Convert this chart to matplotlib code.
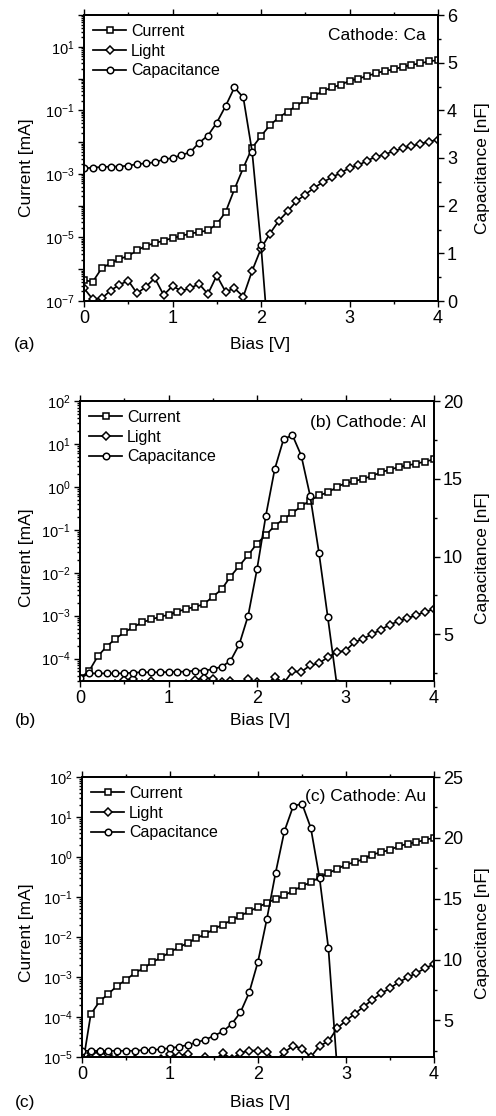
import numpy as np
import matplotlib
matplotlib.use("Agg")
import matplotlib.pyplot as plt
from matplotlib.ticker import FixedLocator, FuncFormatter, MultipleLocator, LogLocator, NullFormatter

plt.rcParams['font.family'] = ['Liberation Sans', 'DejaVu Sans']
plt.rcParams['mathtext.fontset'] = 'custom'
plt.rcParams['mathtext.rm'] = 'Liberation Sans'
plt.rcParams['mathtext.it'] = 'Liberation Sans'
plt.rcParams['mathtext.bf'] = 'Liberation Sans'

# ---------------- data ----------------
bias = [0.0, 0.1, 0.2, 0.3, 0.4, 0.5, 0.6, 0.7, 0.8, 0.9, 1.0,
        1.1, 1.2, 1.3, 1.4, 1.5, 1.6, 1.7, 1.8, 1.9, 2.0,
        2.1, 2.2, 2.3, 2.4, 2.5, 2.6, 2.7, 2.8, 2.9, 3.0,
        3.1, 3.2, 3.3, 3.4, 3.5, 3.6, 3.7, 3.8, 3.9, 4.0]

# panel (a) Cathode: Ca   (current / light given as log10 of mA)
a_current_log = [-6.35, -6.39, -5.97, -5.81, -5.68, -5.58, -5.41, -5.26, -5.18, -5.10, -5.02,
                 -4.95, -4.88, -4.83, -4.78, -4.58, -4.20, -3.48, -2.81, -2.18, -1.81,
                 -1.47, -1.23, -1.04, -0.86, -0.68, -0.55, -0.39, -0.28, -0.20, -0.07,
                 0.00, 0.08, 0.17, 0.24, 0.29, 0.37, 0.43, 0.48, 0.54, 0.58]
a_light_log = [-6.60, -6.95, -6.92, -6.67, -6.49, -6.36, -6.76, -6.55, -6.28, -6.81, -6.53,
               -6.68, -6.60, -6.46, -6.78, -6.20, -6.71, -6.60, -6.86, -6.05, -5.35,
               -4.88, -4.48, -4.18, -3.86, -3.65, -3.44, -3.26, -3.11, -2.97, -2.81,
               -2.73, -2.58, -2.46, -2.39, -2.28, -2.20, -2.13, -2.05, -1.99, -1.92]
a_cap = [2.78, 2.80, 2.81, 2.82, 2.82, 2.84, 2.87, 2.89, 2.91, 2.97, 3.00,
         3.06, 3.12, 3.32, 3.47, 3.74, 4.09, 4.48, 4.27, 3.13, 1.17, -1.20]

# panel (b) Cathode: Al
b_current_log = [-4.45, -4.30, -3.95, -3.72, -3.54, -3.39, -3.27, -3.16, -3.09, -3.03, -2.98,
                 -2.91, -2.84, -2.80, -2.73, -2.56, -2.39, -2.09, -1.84, -1.59, -1.32,
                 -1.12, -0.91, -0.75, -0.61, -0.45, -0.32, -0.20, -0.13, -0.01, 0.09,
                 0.13, 0.19, 0.25, 0.34, 0.40, 0.46, 0.50, 0.54, 0.59, 0.64]
b_light_log = [-4.60, -4.70, -4.70, -4.65, -4.60, -4.50, -4.48, -4.60, -4.52, -4.65, -4.70,
               -4.65, -4.60, -4.50, -4.45, -4.47, -4.55, -4.52, -4.65, -4.47, -4.55,
               -4.65, -4.42, -4.58, -4.30, -4.31, -4.16, -4.11, -3.97, -3.85, -3.82,
               -3.62, -3.54, -3.43, -3.33, -3.21, -3.13, -3.06, -2.99, -2.91, -2.85]
b_cap = [2.17, 2.49, 2.49, 2.49, 2.49, 2.49, 2.54, 2.56, 2.56, 2.56, 2.58,
         2.60, 2.60, 2.67, 2.67, 2.75, 2.92, 3.29, 4.36, 6.20, 9.18,
         12.63, 15.61, 17.54, 17.81, 16.49, 13.91, 10.25, 6.09, 1.85]

# panel (c) Cathode: Au
c_current_log = [-5.30, -3.93, -3.61, -3.42, -3.22, -3.07, -2.90, -2.78, -2.63, -2.51, -2.38,
                 -2.26, -2.15, -2.03, -1.93, -1.80, -1.69, -1.58, -1.47, -1.36, -1.25,
                 -1.15, -1.05, -0.96, -0.84, -0.73, -0.63, -0.51, -0.40, -0.30, -0.19,
                 -0.13, -0.05, 0.06, 0.12, 0.18, 0.27, 0.33, 0.37, 0.43, 0.48]
c_light_log = [-5.10, -4.90, -4.88, -4.92, -5.05, -5.10, -5.05, -5.10, -5.10, -5.05, -4.93,
               -4.97, -4.92, -5.10, -5.00, -5.10, -4.90, -5.05, -4.90, -4.84, -4.84,
               -4.88, -5.10, -4.88, -4.72, -4.79, -5.00, -4.72, -4.61, -4.28, -4.09,
               -3.92, -3.74, -3.57, -3.41, -3.28, -3.13, -3.01, -2.90, -2.78, -2.68]
c_cap = [2.51, 2.51, 2.51, 2.51, 2.51, 2.51, 2.51, 2.57, 2.57, 2.65, 2.73,
         2.84, 2.98, 3.20, 3.42, 3.74, 4.10, 4.70, 5.66, 7.30, 9.84,
         13.31, 17.13, 20.55, 22.60, 22.81, 20.82, 16.67, 10.93, 1.00]

legend_labels = ["Current", "Light", "Capacitance"]
panel_titles = ["Cathode: Ca", "(b) Cathode: Al", "(c) Cathode: Au"]
panel_letters = ["(a)", "(b)", "(c)"]
xlabel = "Bias [V]"
ylabel_left = "Current [mA]"
ylabel_right = "Capacitance [nF]"

# ---------------- layout ----------------
W, H = 496, 1116
fig = plt.figure(figsize=(W / 100, H / 100), dpi=100)

def frac_rect(l, r, t, b):
    return [l / W, 1 - b / H, (r - l) / W, (b - t) / H]

panels = [
    dict(rect=(84, 438, 15, 301), cur=a_current_log, light=a_light_log, cap=a_cap,
         ylim=(1e-7, 1e2), cylim=(0, 6), cmajor=1, cminor=0.5,
         decades=list(range(-7, 3)), labdec=[-7, -5, -3, -1, 1],
         ylab_y=168, xlab_y=345, title_y=36),
    dict(rect=(80, 434, 401, 681), cur=b_current_log, light=b_light_log, cap=b_cap,
         ylim=(3e-5, 1e2), cylim=(2, 20), cmajor=5, cminor=2.5,
         decades=list(range(-4, 3)), labdec=list(range(-4, 3)),
         ylab_y=558, xlab_y=721, title_y=422),
    dict(rect=(82, 434, 777, 1057), cur=c_current_log, light=c_light_log, cap=c_cap,
         ylim=(1e-5, 1e2), cylim=(2, 25), cmajor=5, cminor=2.5,
         decades=list(range(-5, 3)), labdec=list(range(-5, 3)),
         ylab_y=933, xlab_y=1103, title_y=797),
]

lw = 1.25
mkw = dict(markerfacecolor='white', markeredgecolor='black', markeredgewidth=1.1)

for i, p in enumerate(panels):
    l, r, t, b = p['rect']
    ax = fig.add_axes(frac_rect(l, r, t, b))
    ax2 = ax.twinx()

    x = np.array(bias)
    cur = 10 ** np.array(p['cur'])
    lig = 10 ** np.array(p['light'])
    cap = np.array(p['cap'])
    xc = x[:len(cap)]

    h1, = ax.plot(x, cur, '-', color='black', lw=lw, marker='s', markersize=4.3, **mkw)
    h2, = ax.plot(x, lig, '-', color='black', lw=lw, marker='D', markersize=3.9, **mkw)
    h3, = ax2.plot(xc, cap, '-', color='black', lw=lw, marker='o', markersize=4.7, **mkw)

    ax.set_yscale('log')
    ax.set_ylim(*p['ylim'])
    ax.set_xlim(0, 4)
    ax2.set_ylim(*p['cylim'])

    ax.yaxis.set_major_locator(FixedLocator([10.0 ** d for d in p['decades']]))
    labdec = p['labdec']
    ax.yaxis.set_major_formatter(FuncFormatter(
        lambda v, pos, labdec=labdec: (r'$10^{%d}$' % int(round(np.log10(v))))
        if int(round(np.log10(v))) in labdec else ''))
    ax.yaxis.set_minor_locator(LogLocator(base=10, subs=np.arange(2, 10), numticks=50))
    ax.yaxis.set_minor_formatter(NullFormatter())

    ax.xaxis.set_major_locator(MultipleLocator(1))
    ax.xaxis.set_minor_locator(MultipleLocator(0.5))
    ax.xaxis.set_major_formatter(FuncFormatter(lambda v, pos: '%d' % v))

    ax2.yaxis.set_major_locator(MultipleLocator(p['cmajor']))
    ax2.yaxis.set_minor_locator(MultipleLocator(p['cminor']))
    ax2.yaxis.set_major_formatter(FuncFormatter(lambda v, pos: '%d' % v))

    ax.tick_params(axis='x', which='both', direction='out', top=True, labeltop=False,
                   labelsize=13, width=1.0, pad=2)
    ax.tick_params(axis='x', which='major', length=4.5)
    ax.tick_params(axis='x', which='minor', length=2.5)
    ax.tick_params(axis='y', which='both', direction='out', left=True, right=False,
                   labelsize=10.5, width=1.0, pad=2)
    ax.tick_params(axis='y', which='major', length=4.5)
    ax.tick_params(axis='y', which='minor', length=2.5)
    ax2.tick_params(axis='y', which='both', direction='out', labelsize=13, width=1.0, pad=2)
    ax2.tick_params(axis='y', which='major', length=4.5)
    ax2.tick_params(axis='y', which='minor', length=2.5)

    for a_ in (ax, ax2):
        for s in a_.spines.values():
            s.set_linewidth(1.3)

    ax2.legend([h1, h2, h3], legend_labels, loc='upper left', frameon=False,
               fontsize=11.5, handlelength=2.1, handletextpad=0.3, labelspacing=0.3,
               borderaxespad=0.25, borderpad=0.3)

    fig.text(426 / W, 1 - p['title_y'] / H, panel_titles[i], ha='right', va='center',
             fontsize=12.5)
    fig.text(27 / W, 1 - p['ylab_y'] / H, ylabel_left, rotation=90, ha='center', va='center',
             fontsize=12.5)
    fig.text(483 / W, 1 - p['ylab_y'] / H, ylabel_right, rotation=90, ha='center', va='center',
             fontsize=12.5)
    fig.text(260 / W, 1 - p['xlab_y'] / H, xlabel, ha='center', va='center', fontsize=12.5)
    fig.text(25 / W, 1 - p['xlab_y'] / H, panel_letters[i], ha='center', va='center',
             fontsize=12.5)

fig.savefig('out.png', dpi=100)
